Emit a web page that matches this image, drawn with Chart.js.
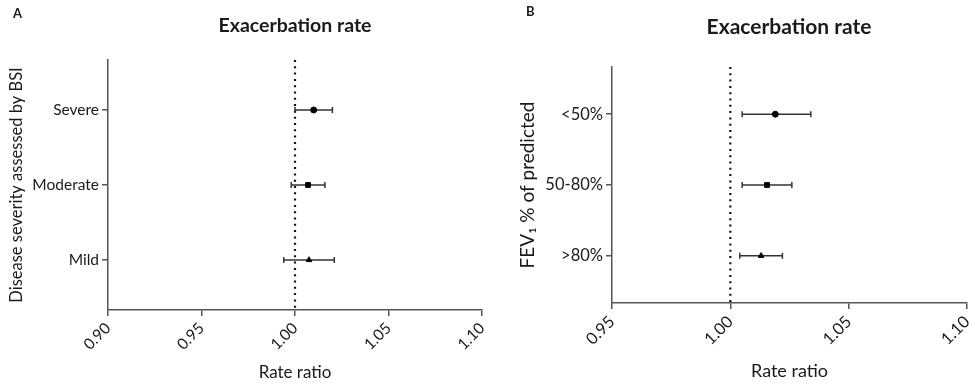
<!DOCTYPE html>
<html>
<head>
<meta charset="utf-8">
<script src="https://cdn.jsdelivr.net/npm/chart.js@4.4.1/dist/chart.umd.min.js"></script>
<style>
  html, body { margin: 0; padding: 0; background: #fff; }
  #wrap { position: relative; width: 975px; height: 389px; overflow: hidden; background: #fff; font-family: Lato, "Open Sans", sans-serif; color: #1a1a1a; }
  canvas { position: absolute; top: 0; }
  .lbl { position: absolute; font-weight: bold; font-size: 13px; line-height: 13px; }
  .ttl { position: absolute; font-weight: bold; text-align: center; width: 300px; }
</style>
</head>
<body>
<div id="wrap">
  <canvas id="cA" width="490" height="389" style="left:0px"></canvas>
  <canvas id="cB" width="488" height="389" style="left:487px"></canvas>
  <div class="lbl" style="left:13px;top:7px">A</div>
  <div class="lbl" style="left:526px;top:5px">B</div>
  <div class="ttl" style="left:145px;top:15px;font-size:19.5px;line-height:20px">Exacerbation rate</div>
  <div class="ttl" style="left:639px;top:15px;font-size:21px;line-height:21px">Exacerbation rate</div>
</div>
<script>
// ---- Panel A data ----
const groupsA = ['Severe', 'Moderate', 'Mild'];
const rrA = [1.010, 1.007, 1.0075];
const loA = [1.000, 0.998, 0.994];
const hiA = [1.020, 1.016, 1.021];
const ticksA = [0.90, 0.95, 1.00, 1.05, 1.10];
const yTitleA = 'Disease severity assessed by BSI';

// ---- Panel B data ----
const groupsB = ['<50%', '50-80%', '>80%'];
const rrB = [1.019, 1.0155, 1.013];
const loB = [1.005, 1.005, 1.004];
const hiB = [1.034, 1.026, 1.022];
const ticksB = [0.95, 1.00, 1.05, 1.10];
const yTitleB = 'FEV\u2081 % of predicted';

const xTitle = 'Rate ratio';
const chartTitle = 'Exacerbation rate';
const refValue = 1.00;
const markerStyles = ['circle', 'rect', 'triangle'];

const FONT = 'Lato, "Open Sans", sans-serif';
const AX = '#555555';
const INK = '#1a1a1a';
const Y_MIN = -0.667, Y_MAX = 2.667;

function buildDatasets(rr, lo, hi) {
  const ds = [];
  ds.push({
    data: [{x: refValue, y: Y_MIN}, {x: refValue, y: Y_MAX}],
    showLine: true, borderColor: '#111', borderWidth: 2.2, borderDash: [2, 4.3],
    pointRadius: 0, order: 10
  });
  rr.forEach((v, i) => {
    ds.push({
      data: [{x: lo[i], y: i}, {x: hi[i], y: i}],
      showLine: true, borderColor: '#333', borderWidth: 1.5,
      pointStyle: 'line', rotation: 90, pointRadius: 3, pointBorderWidth: 1.5,
      pointBorderColor: '#333', order: 5
    });
    ds.push({
      data: [{x: v, y: i}],
      pointStyle: markerStyles[i], pointRadius: i === 1 ? 3.4 : (i === 2 ? 3.2 : 3),
      backgroundColor: '#000', borderColor: '#000', borderWidth: 1, order: 1
    });
  });
  return ds;
}

function makeChart(id, groups, rr, lo, hi, ticks, yTitle, o) {
  return new Chart(document.getElementById(id), {
    type: 'scatter',
    data: { datasets: buildDatasets(rr, lo, hi) },
    options: {
      responsive: false, animation: false, events: [],
      layout: { padding: { top: o.top, right: o.right, left: 0, bottom: 0 } },
      plugins: { legend: { display: false }, tooltip: { enabled: false }, title: { display: false } },
      scales: {
        x: {
          type: 'linear', min: ticks[0], max: ticks[ticks.length - 1],
          afterBuildTicks: s => { s.ticks = ticks.map(v => ({ value: v })); },
          afterFit: s => { s.height = o.xh; s.paddingLeft = 0; s.paddingRight = 0; },
          ticks: { minRotation: 45, maxRotation: 45, padding: 3, color: INK,
                   font: { family: FONT, size: o.tick }, callback: v => Number(v).toFixed(2) },
          grid: { drawOnChartArea: false, drawTicks: true, tickLength: 6, color: AX, lineWidth: 1.5 },
          border: { display: true, color: AX, width: 1.5 },
          title: { display: true, text: xTitle, color: INK, font: { family: FONT, size: o.xt },
                   padding: { top: 0, bottom: o.xtp } }
        },
        y: {
          type: 'linear', reverse: true, min: Y_MIN, max: Y_MAX,
          afterBuildTicks: s => { s.ticks = groups.map((g, i) => ({ value: i })); },
          afterFit: s => { s.width = o.yw; s.paddingTop = 0; s.paddingBottom = 0; },
          ticks: { padding: 3, color: INK, font: { family: FONT, size: o.tick },
                   callback: v => groups[Math.round(v)] },
          grid: { drawOnChartArea: false, drawTicks: true, tickLength: 6, color: AX, lineWidth: 1.5 },
          border: { display: true, color: AX, width: 1.5 },
          title: { display: true, text: yTitle, color: INK, font: { family: FONT, size: o.yt },
                   padding: { top: o.ytp, bottom: 0 } }
        }
      }
    }
  });
}

makeChart('cA', groupsA, rrA, loA, hiA, ticksA, yTitleA,
  { top: 60, right: 8, yw: 108, xh: 79, tick: 15.5, xt: 17, yt: 16.5, xtp: 5.8, ytp: 7.1 });
makeChart('cB', groupsB, rrB, loB, hiB, ticksB, yTitleB,
  { top: 67, right: 8, yw: 125, xh: 86, tick: 16.5, xt: 18, yt: 19, xtp: 7.2, ytp: 29.6 });
</script>
</body>
</html>
